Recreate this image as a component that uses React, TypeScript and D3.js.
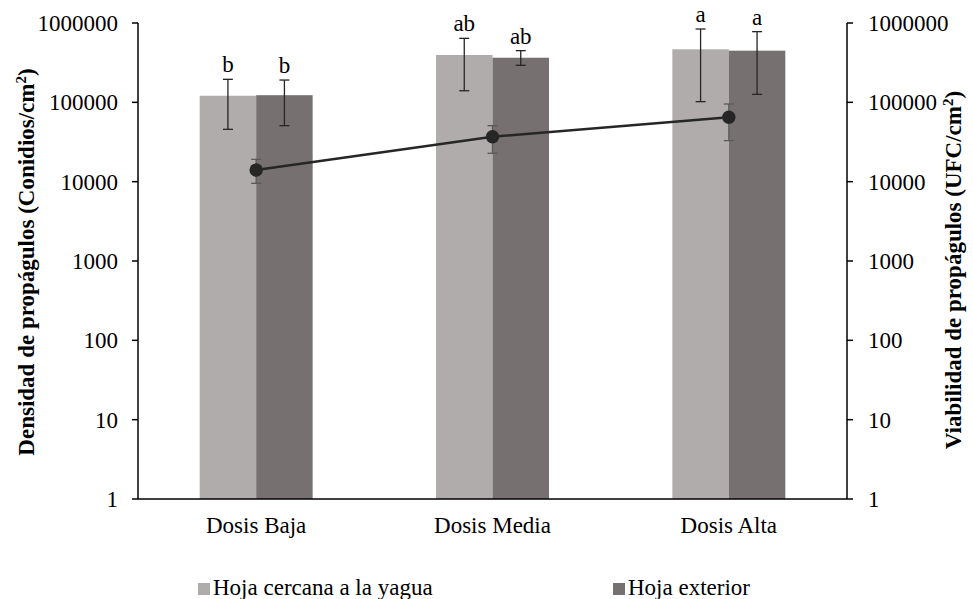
import React from "react";
import * as d3 from "d3";

const categories = ["Dosis Baja", "Dosis Media", "Dosis Alta"];
const seriesNames = ["Hoja cercana a la yagua", "Hoja exterior"];
const cercana = [121000, 395000, 466000];
const cercanaHi = [195000, 641000, 840000];
const cercanaLo = [45700, 140000, 102000];
const exterior = [123000, 365000, 448000];
const exteriorHi = [191000, 448000, 778000];
const exteriorLo = [50800, 293000, 126000];
const letrasCercana = ["b", "ab", "a"];
const letrasExterior = ["b", "ab", "a"];
const viabilidad = [14000, 36900, 64800];
const viabilidadHi = [19100, 50800, 95300];
const viabilidadLo = [9530, 22800, 32900];
const tickValues = [1, 10, 100, 1000, 10000, 100000, 1000000];

const W = 973, H = 599;
const left = 138, right = 847, top = 23, bottom = 499;
const colors = ["#b0acac", "#767170"];
const FONT = "'Liberation Serif', 'Times New Roman', serif";
const FS = 23;

export default function App() {
  const x = d3.scaleBand<string>().domain(categories).range([left, right]).padding(0);
  const y = d3.scaleLog().domain([1, 1000000]).range([bottom, top]);
  const yR = d3.scaleLog().domain([1, 1000000]).range([bottom, top]);
  const barW = x.bandwidth() * 0.239;
  const series = [
    { v: cercana, hi: cercanaHi, lo: cercanaLo, l: letrasCercana },
    { v: exterior, hi: exteriorHi, lo: exteriorLo, l: letrasExterior },
  ];
  const cx = (c: string) => (x(c) as number) + x.bandwidth() / 2;
  const line = d3.line<number>().x((_, i) => cx(categories[i])).y((d) => yR(d));

  return (
    <svg width={W} height={H} style={{ position: "absolute", left: 0, top: 0 }} fontFamily={FONT}>
      <rect width={W} height={H} fill="#fff" />
      {series.map((s, si) =>
        categories.map((c, i) => {
          const x0 = cx(c) + (si === 0 ? -barW : 0);
          const xm = x0 + barW / 2;
          return (
            <g key={`${si}-${i}`}>
              <rect x={x0} y={y(s.v[i])} width={barW} height={bottom - y(s.v[i])} fill={colors[si]} />
              <line x1={xm} x2={xm} y1={y(s.hi[i])} y2={y(s.lo[i])} stroke="#262626" strokeWidth={1.3} />
              <line x1={xm - 5} x2={xm + 5} y1={y(s.hi[i])} y2={y(s.hi[i])} stroke="#262626" strokeWidth={1.3} />
              <line x1={xm - 5} x2={xm + 5} y1={y(s.lo[i])} y2={y(s.lo[i])} stroke="#262626" strokeWidth={1.3} />
              <text x={xm} y={y(s.hi[i]) - 7} textAnchor="middle" fontSize={FS} fill="#000">{s.l[i]}</text>
            </g>
          );
        })
      )}
      {categories.map((c, i) => (
        <g key={`ve${i}`}>
          <line x1={cx(c)} x2={cx(c)} y1={yR(viabilidadHi[i])} y2={yR(viabilidadLo[i])} stroke="#595959" strokeWidth={1.3} />
          <line x1={cx(c) - 5} x2={cx(c) + 5} y1={yR(viabilidadHi[i])} y2={yR(viabilidadHi[i])} stroke="#595959" strokeWidth={1.3} />
          <line x1={cx(c) - 5} x2={cx(c) + 5} y1={yR(viabilidadLo[i])} y2={yR(viabilidadLo[i])} stroke="#595959" strokeWidth={1.3} />
        </g>
      ))}
      <path d={line(viabilidad) || ""} fill="none" stroke="#262626" strokeWidth={2.5} />
      {categories.map((c, i) => (
        <circle key={`pt${i}`} cx={cx(c)} cy={yR(viabilidad[i])} r={6.7} fill="#262626" />
      ))}
      {/* axes */}
      <line x1={left} x2={left} y1={top} y2={bottom} stroke="#000" strokeWidth={1.5} />
      <line x1={right} x2={right} y1={top} y2={bottom} stroke="#000" strokeWidth={1.5} />
      <line x1={left} x2={right} y1={bottom} y2={bottom} stroke="#000" strokeWidth={1.5} />
      {tickValues.map((t) => (
        <g key={`t${t}`}>
          <line x1={left - 6} x2={left} y1={y(t)} y2={y(t)} stroke="#000" strokeWidth={1.5} />
          <text x={left - 20} y={y(t)} dy="0.35em" textAnchor="end" fontSize={FS}>{t}</text>
          <line x1={right} x2={right + 6} y1={yR(t)} y2={yR(t)} stroke="#000" strokeWidth={1.5} />
          <text x={right + 21} y={yR(t)} dy="0.35em" textAnchor="start" fontSize={FS}>{t}</text>
        </g>
      ))}
      {categories.map((c) => (
        <text key={`c${c}`} x={cx(c)} y={533} textAnchor="middle" fontSize={FS}>{c}</text>
      ))}
      <text transform={`translate(34, 262) rotate(-90)`} textAnchor="middle" fontSize={23} fontWeight="bold">
        Densidad de propágulos (Conidios/cm<tspan dy="-8" fontSize={15}>2</tspan><tspan dy="8">)</tspan>
      </text>
      <text transform={`translate(961, 270) rotate(-90)`} textAnchor="middle" fontSize={23} fontWeight="bold">
        Viabilidad de propágulos (UFC/cm<tspan dy="-8" fontSize={15}>2</tspan><tspan dy="8">)</tspan>
      </text>
      {/* legend */}
      {seriesNames.map((n, i) => {
        const lx = i === 0 ? 198 : 613;
        return (
          <g key={`lg${i}`}>
            <rect x={lx} y={583} width={12} height={12} fill={colors[i]} />
            <text x={lx + 15} y={595} fontSize={FS}>{n}</text>
          </g>
        );
      })}
    </svg>
  );
}
